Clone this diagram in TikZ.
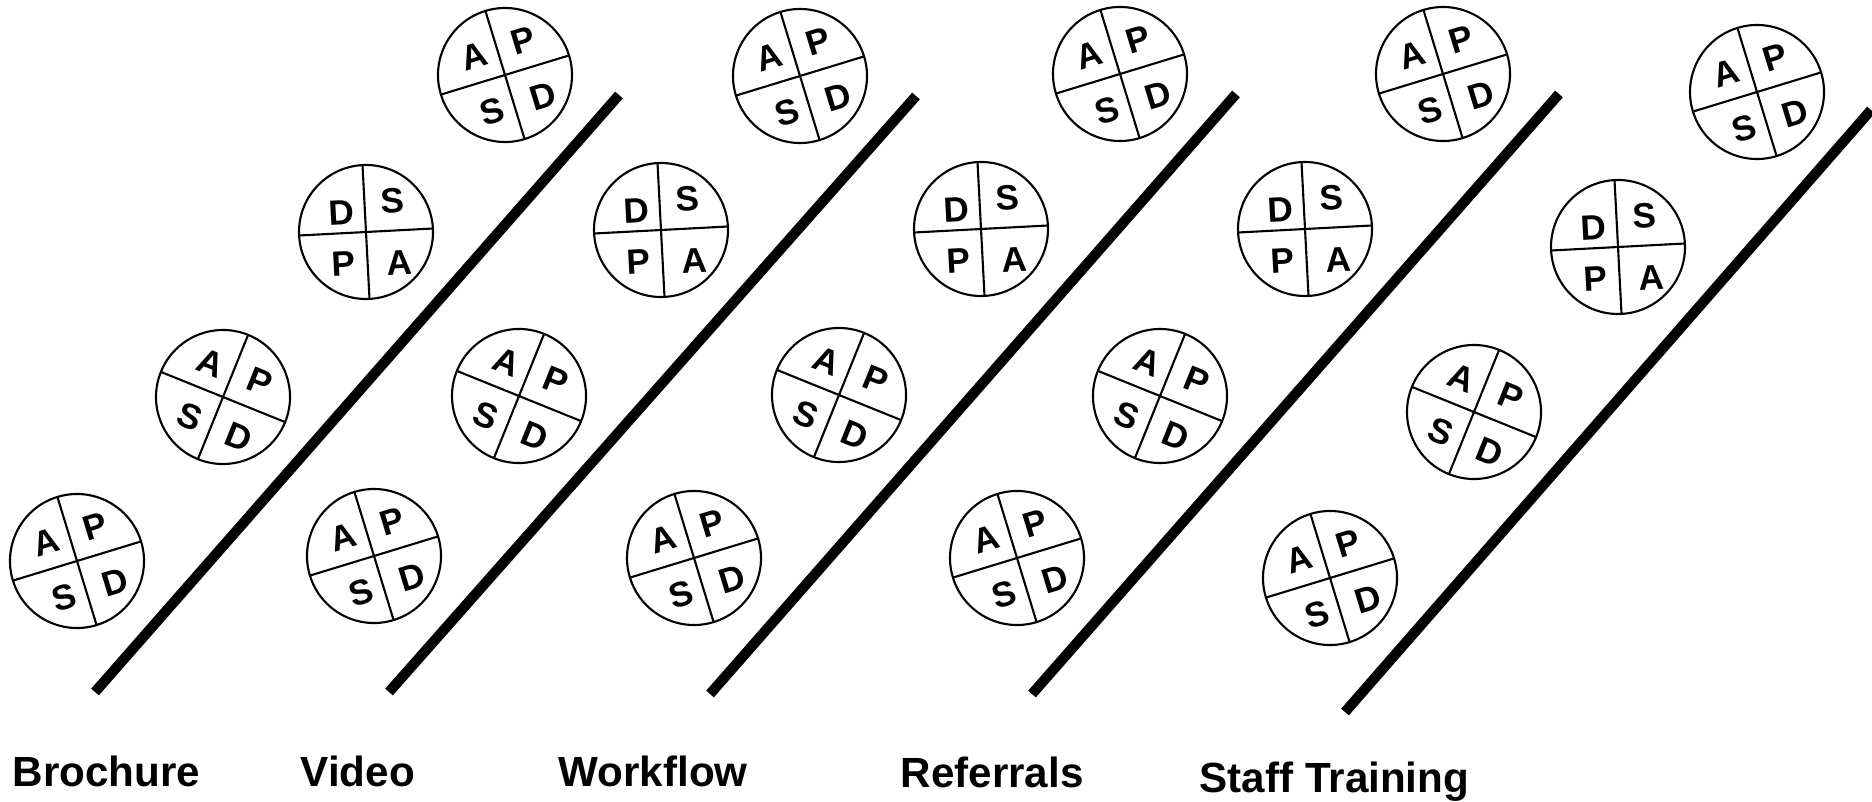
\documentclass[tikz,border=0pt]{standalone}
\usepackage{fontspec}
\setmainfont{Liberation Sans}

\tikzset{
  ring/.style={line width=0.6pt},
  letter/.style={font=\fontsize{10}{11}\selectfont\bfseries, inner sep=0pt, transform shape},
  divider/.style={line width=2.9pt},
  grouplabel/.style={font=\fontsize{12}{14}\selectfont\bfseries, anchor=base west, inner sep=0pt},
  pics/apsd/.style={code={
    \begin{scope}[rotate=#1]
    \draw[ring] (0,0) circle[radius=67];
    \draw[ring] (-67,0) -- (67,0) (0,-67) -- (0,67);
    \node[letter] (-a) at (-24,-27) {A};
    \node[letter] (-p) at (28,-28) {P};
    \node[letter] (-s) at (-23,31) {S};
    \node[letter] (-d) at (30,31) {D};
    \end{scope}
  }},
  pics/dspa/.style={code={
    \begin{scope}[rotate=#1]
    \draw[ring] (0,0) circle[radius=67];
    \draw[ring] (-67,0) -- (67,0) (0,-67) -- (0,67);
    \node[letter] (-d) at (-23,-20) {D};
    \node[letter] (-s) at (28,-30) {S};
    \node[letter] (-p) at (-24,31) {P};
    \node[letter] (-a) at (32,32) {A};
    \end{scope}
  }},
}

\begin{document}
\begin{tikzpicture}[x=0.1mm,y=-0.1mm]
    \useasboundingbox (0,0) rectangle (1872,802);

    % Brochure
    \pic (b1) at (77,561) {apsd=17};
    \pic (b2) at (223,397) {apsd=-22};
    \pic (b3) at (366,232) {dspa=3};
    \pic (b4) at (505,75) {apsd=17};

    % Video
    \pic (v1) at (374,556) {apsd=17};
    \pic (v2) at (519,396) {apsd=-22};
    \pic (v3) at (661,230) {dspa=3};
    \pic (v4) at (800,76) {apsd=17};

    % Workflow
    \pic (w1) at (694,558) {apsd=17};
    \pic (w2) at (839,395) {apsd=-22};
    \pic (w3) at (981,229) {dspa=3};
    \pic (w4) at (1120,74) {apsd=17};

    % Referrals
    \pic (r1) at (1017,558) {apsd=17};
    \pic (r2) at (1160,396) {apsd=-22};
    \pic (r3) at (1305,229) {dspa=3};
    \pic (r4) at (1443,74) {apsd=17};

    % Staff Training
    \pic (t1) at (1330,578) {apsd=17};
    \pic (t2) at (1474,412) {apsd=-22};
    \pic (t3) at (1618,247) {dspa=3};
    \pic (t4) at (1757,92) {apsd=17};

    \coordinate (l1a) at (95,692);   \coordinate (l1b) at (619,95);
    \coordinate (l2a) at (389,692);  \coordinate (l2b) at (916,96);
    \coordinate (l3a) at (710,694);  \coordinate (l3b) at (1236,94);
    \coordinate (l4a) at (1032,694); \coordinate (l4b) at (1559,94);
    \coordinate (l5a) at (1345,712); \coordinate (l5b) at (1871,110);

    \draw[divider] (l1a) -- (l1b);
    \draw[divider] (l2a) -- (l2b);
    \draw[divider] (l3a) -- (l3b);
    \draw[divider] (l4a) -- (l4b);
    \draw[divider] (l5a) -- (l5b);

    \node[grouplabel] (brochure) at (12,786) {Brochure};
    \node[grouplabel] (video) at (300,786) {Video};
    \node[grouplabel] (workflow) at (558,786) {Workflow};
    \node[grouplabel] (referrals) at (900,787) {Referrals};
    \node[grouplabel] (training) at (1199,792) {Staff Training};
\end{tikzpicture}
\end{document}
